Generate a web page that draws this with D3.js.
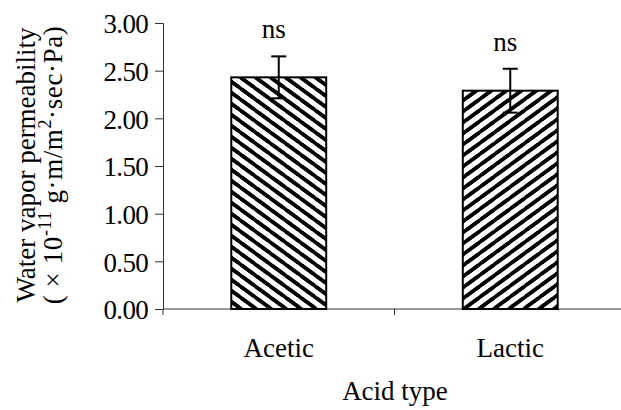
<!DOCTYPE html>
<html>
<head>
<meta charset="utf-8">
<script src="https://cdn.jsdelivr.net/npm/d3@7"></script>
<style>
  body { margin: 0; background: #fff; }
  svg text { font-family: "Liberation Serif", "Times New Roman", serif; fill: #000; }
</style>
</head>
<body>
<div id="chart"></div>
<script>
// data
let categories = ['Acetic', 'Lactic']
let values = [2.43, 2.29]
let errors = [0.22, 0.23]
let sigLabels = ['ns', 'ns']
let yTicks = [0, 0.5, 1, 1.5, 2, 2.5, 3]
let hatchDir = ['back', 'fwd']

let svgWidth = 621
let svgHeight = 410
let padding = {left: 163, right: -5, top: 23, bottom: 101}
let fs = '27px'

let svg = d3.select('#chart').append('svg')
    .attr('width', svgWidth)
    .attr('height', svgHeight)

// hatch patterns
let defs = svg.append('defs')
let tw = 15, th = 11
function addHatch(id, back) {
    let p = defs.append('pattern')
        .attr('id', id)
        .attr('patternUnits', 'userSpaceOnUse')
        .attr('width', tw)
        .attr('height', th)
    p.append('rect').attr('width', tw).attr('height', th).attr('fill', '#fff')
    let segs = back
        ? [[-tw, -th, tw, th], [0, 0, 2 * tw, 2 * th], [-tw, 0, tw, 2 * th], [0, -th, 2 * tw, th]]
        : [[-tw, th, tw, -th], [0, 2 * th, 2 * tw, 0], [0, th, tw, 0], [-tw, 2 * th, tw, 0]]
    segs.forEach(s => {
        p.append('line')
            .attr('x1', s[0]).attr('y1', s[1])
            .attr('x2', s[2]).attr('y2', s[3])
            .attr('stroke', '#000')
            .attr('stroke-width', 3.6)
    })
}
addHatch('hatch_back', true)
addHatch('hatch_fwd', false)

let x = d3.scaleBand()
    .domain(categories)
    .range([padding.left, svgWidth - padding.right])
    .padding(0)
let y = d3.scaleLinear()
    .domain([0, 3])
    .range([svgHeight - padding.bottom, padding.top])

let axisY = d3.axisLeft(y)
    .tickValues(yTicks)
    .tickSize(8)
    .tickPadding(7)
    .tickFormat(d3.format('.2f'))

let gy = svg.append('g')
    .attr('transform', `translate(${padding.left}, 0)`)
    .call(axisY)
    .attr('font-size', fs)
    .attr('font-family', '"Liberation Serif", serif')
gy.select('.domain').attr('stroke', '#333')
gy.selectAll('.tick line').attr('stroke', '#333')
gy.selectAll('.tick text')
    .attr('letter-spacing', '-0.7px')
    .attr('dy', '0.36em')

// x axis: baseline with ticks on band edges
let y0 = y(0)
svg.append('line')
    .attr('x1', padding.left).attr('x2', svgWidth)
    .attr('y1', y0).attr('y2', y0)
    .attr('stroke', '#333')
svg.append('g')
    .selectAll('line')
    .data(categories)
    .enter()
    .append('line')
    .attr('x1', d => x(d)).attr('x2', d => x(d))
    .attr('y1', y0).attr('y2', y0 + 6)
    .attr('stroke', '#333')

let barW = x.bandwidth() * 0.41
let cx = d => x(d) + x.bandwidth() / 2

svg.append('g')
    .selectAll('rect')
    .data(values)
    .enter()
    .append('rect')
    .attr('x', (d, i) => cx(categories[i]) - barW / 2)
    .attr('y', d => y(d))
    .attr('width', barW)
    .attr('height', d => y0 - y(d))
    .attr('fill', (d, i) => hatchDir[i] == 'back' ? 'url(#hatch_back)' : 'url(#hatch_fwd)')
    .attr('stroke', '#000')
    .attr('stroke-width', 2)

// error bars
let eg = svg.append('g')
values.forEach((v, i) => {
    let c = cx(categories[i])
    let top = y(v + errors[i]), bot = y(v - errors[i])
    eg.append('line').attr('x1', c).attr('x2', c).attr('y1', top).attr('y2', bot)
        .attr('stroke', '#000').attr('stroke-width', 2)
    eg.append('line').attr('x1', c - 7.5).attr('x2', c + 7.5).attr('y1', top).attr('y2', top)
        .attr('stroke', '#000').attr('stroke-width', 2)
    eg.append('line').attr('x1', c - 7.5).attr('x2', c + 7.5).attr('y1', bot).attr('y2', bot)
        .attr('stroke', '#000').attr('stroke-width', 2)
    eg.append('text')
        .attr('x', c - 5)
        .attr('y', top - 18)
        .attr('text-anchor', 'middle')
        .attr('font-size', fs)
        .text(sigLabels[i])
})

// category labels
svg.append('g')
    .selectAll('text')
    .data(categories)
    .enter()
    .append('text')
    .attr('x', d => cx(d))
    .attr('y', 357)
    .attr('text-anchor', 'middle')
    .attr('font-size', fs)
    .text(d => d)

svg.append('text')
    .attr('x', 395)
    .attr('y', 400)
    .attr('text-anchor', 'middle')
    .attr('font-size', fs)
    .text('Acid type')

// y axis title, two lines
let yl = svg.append('g')
    .attr('transform', `translate(0, 165) rotate(-90)`)
yl.append('text')
    .attr('x', 0).attr('y', 35)
    .attr('text-anchor', 'middle')
    .attr('font-size', fs)
    .text('Water vapor permeability')
let t2 = yl.append('text')
    .attr('x', 0).attr('y', 62)
    .attr('text-anchor', 'middle')
    .attr('font-size', fs)
    .attr('letter-spacing', '0.6px')
t2.append('tspan').text('( × 10')
t2.append('tspan').attr('font-size', '18px').attr('dy', -11).text('-11')
t2.append('tspan').attr('dy', 11).text(' g·m/m')
t2.append('tspan').attr('font-size', '18px').attr('dy', -11).text('2')
t2.append('tspan').attr('dy', 11).text('·sec·Pa)')
</script>
</body>
</html>
